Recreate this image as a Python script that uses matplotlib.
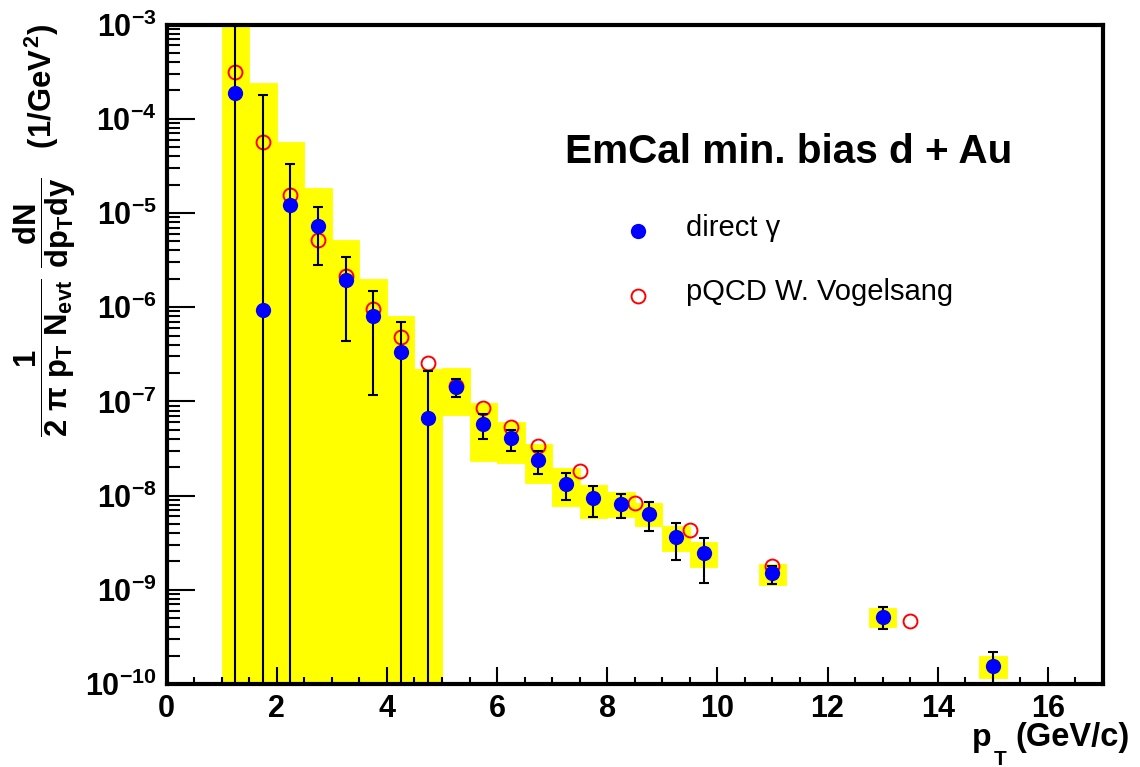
import numpy as np
import matplotlib
matplotlib.use('Agg')
import matplotlib.pyplot as plt
from matplotlib.ticker import LogLocator, MultipleLocator, NullFormatter

plt.rcParams.update({
    'font.family': 'Liberation Sans',
    'font.weight': 'bold',
    'mathtext.fontset': 'custom',
    'mathtext.rm': 'Liberation Sans:bold',
    'mathtext.it': 'Liberation Sans:bold',
    'mathtext.bf': 'Liberation Sans:bold',
    'mathtext.sf': 'Liberation Sans:bold',
    'axes.linewidth': 3,
})

# direct photon spectrum, d+Au min. bias
pt = [1.25, 1.75, 2.25, 2.75, 3.25, 3.75, 4.25, 4.75, 5.25, 5.75, 6.25, 6.75,
      7.25, 7.75, 8.25, 8.75, 9.25, 9.75, 11.0, 13.0, 15.0]
yld = [1.87e-4, 9.3e-7, 1.21e-5, 7.3e-6, 1.94e-6, 8.1e-7, 3.36e-7, 6.7e-8,
       1.43e-7, 5.7e-8, 4.05e-8, 2.38e-8, 1.32e-8, 9.4e-9, 8.2e-9, 6.4e-9,
       3.66e-9, 2.43e-9, 1.51e-9, 5.2e-10, 1.55e-10]
stat_hi = [1e-2, 1.79e-4, 3.3e-5, 1.16e-5, 3.4e-6, 1.48e-6, 6.9e-7, 2.1e-7,
           1.73e-7, 7.3e-8, 4.95e-8, 2.99e-8, 1.75e-8, 1.26e-8, 1.04e-8, 8.5e-9,
           5.15e-9, 3.54e-9, 1.8e-9, 6.5e-10, 2.2e-10]
stat_lo = [1e-11, 1e-11, 1e-11, 2.8e-6, 4.4e-7, 1.16e-7, 1e-11, 1e-11,
           1.12e-7, 3.94e-8, 2.96e-8, 1.68e-8, 8.95e-9, 5.86e-9, 5.82e-9, 4.2e-9,
           2.05e-9, 1.19e-9, 1.15e-9, 3.85e-10, 1e-11]
sys_hi = [1e-2, 2.39e-4, 5.66e-5, 1.84e-5, 5.15e-6, 1.99e-6, 8.1e-7, 2.2e-7,
          2.24e-7, 9.5e-8, 5.98e-8, 3.49e-8, 1.94e-8, 1.29e-8, 1.08e-8, 8.26e-9,
          4.74e-9, 3.18e-9, 1.87e-9, 6.45e-10, 1.98e-10]
sys_lo = [1e-11, 1e-11, 1e-11, 1e-11, 1e-11, 1e-11, 1e-11, 1e-11,
          7.15e-8, 2.35e-8, 2.24e-8, 1.35e-8, 7.8e-9, 5.8e-9, 5.96e-9, 4.74e-9,
          2.6e-9, 1.74e-9, 1.12e-9, 4.02e-10, 1.16e-10]

# pQCD W. Vogelsang
pt_th = [1.25, 1.75, 2.25, 2.75, 3.25, 3.75, 4.25, 4.75, 5.25, 5.75, 6.25, 6.75,
         7.5, 8.5, 9.5, 11.0, 13.5]
yld_th = [3.15e-4, 5.7e-5, 1.55e-5, 5.2e-6, 2.14e-6, 9.5e-7, 4.8e-7, 2.57e-7,
          1.45e-7, 8.5e-8, 5.3e-8, 3.38e-8, 1.83e-8, 8.4e-9, 4.27e-9, 1.8e-9, 4.66e-10]

pt = np.array(pt)
yld = np.array(yld)
sys_lo = np.array(sys_lo)
sys_hi = np.array(sys_hi)

fig = plt.figure(figsize=(11.4, 7.67), dpi=100)
ax = fig.add_axes([0.1461, 0.1082, 0.8214, 0.8598])

ax.bar(pt, sys_hi - sys_lo, bottom=sys_lo, width=0.5, color='#ffff00',
       edgecolor='#ffff00', linewidth=0.6, zorder=1)
ax.plot(pt_th, yld_th, 'o', ms=10, mfc='none', mec='red', mew=1.4, zorder=2)
ax.errorbar(pt, yld, yerr=[yld - np.array(stat_lo), np.array(stat_hi) - yld],
            fmt='none', ecolor='black', elinewidth=1.5, capsize=3.5, capthick=1.5, zorder=3)
ax.plot(pt, yld, 'o', ms=11, color='blue', mec='blue', mew=0, zorder=4)

ax.set_yscale('log')
ax.set_xlim(0, 17)
ax.set_ylim(1e-10, 1e-3)

ax.xaxis.set_major_locator(MultipleLocator(2))
ax.xaxis.set_minor_locator(MultipleLocator(0.5))
ax.yaxis.set_minor_locator(LogLocator(base=10, subs=np.arange(2, 10), numticks=20))
ax.yaxis.set_minor_formatter(NullFormatter())
ax.set_yticks([10.0**k for k in range(-10, -2)])
ax.set_yticklabels([r'$10^{%d}$' % k for k in range(-10, -2)])

ax.tick_params(axis='both', which='both', direction='in', top=False, right=False)
ax.tick_params(axis='y', which='major', length=20, width=1.5, pad=7, labelsize=22)
ax.tick_params(axis='y', which='minor', length=9.5, width=1.5)
ax.tick_params(axis='x', which='major', length=12, width=1.5, pad=7, labelsize=22)
ax.tick_params(axis='x', which='minor', length=5, width=1.5)

ax.text(0.4255, 0.79, 'EmCal min. bias d + Au', transform=ax.transAxes,
        fontsize=29.2, fontweight='bold', ha='left', va='baseline')

# legend
ax.plot([0.503], [0.687], 'o', ms=11, color='blue', mew=0, transform=ax.transAxes)
ax.plot([0.503], [0.589], 'o', ms=10, mfc='none', mec='red', mew=1.4, transform=ax.transAxes)
ax.text(0.5547, 0.679, 'direct γ', transform=ax.transAxes, fontsize=21,
        fontweight='normal', ha='left', va='baseline')
ax.text(0.5547, 0.582, 'pQCD W. Vogelsang', transform=ax.transAxes, fontsize=21,
        fontweight='normal', ha='left', va='baseline')

# x title, ROOT style with a low subscript
fig.text(972 / 1140, 1 - 746 / 767, 'p', fontsize=23, ha='left', va='baseline')
fig.text(994 / 1140, 1 - 765 / 767, 'T', fontsize=15, ha='left', va='baseline')
fig.text(1130 / 1140, 1 - 746 / 767, '(GeV/c)', fontsize=23.5, ha='right', va='baseline')

fig.text(0.039, 0.968,
         r'$\dfrac{1}{2\ \pi\ p_{T}\ N_{evt}}\ \dfrac{dN}{dp_{T}dy}\ \ \ (1/GeV^{2})$',
         fontsize=22.3, rotation=90, ha='center', va='top')

fig.savefig('out.png', dpi=100)
